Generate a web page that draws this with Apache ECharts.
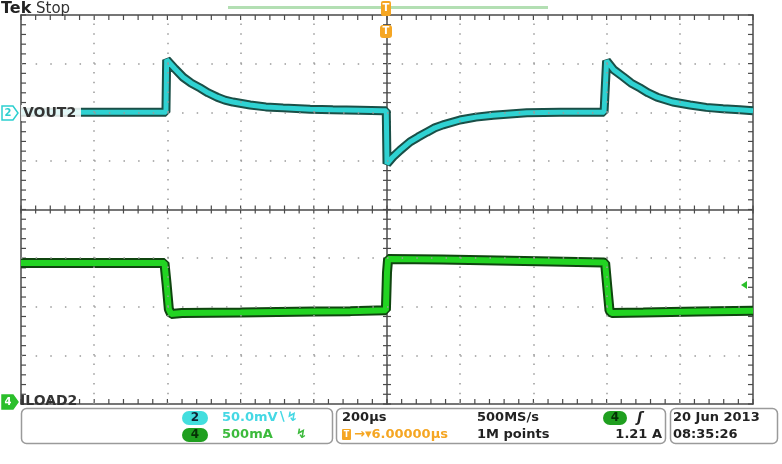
<!DOCTYPE html>
<html><head><meta charset="utf-8">
<script src="https://cdn.jsdelivr.net/npm/echarts@6/dist/echarts.min.js"></script>
<style>html,body{margin:0;padding:0;background:#fff}#c{width:782px;height:464px}</style>
</head><body><div id="c"></div>
<script>
// Time in microseconds (200 us/div), values in vertical divisions
const vTime = [-1000, -604, -602, -579, -557, -535, -511, -489, -464, -443, -421, -374, -331, -284, -210, -148, -74, -11, -2, 0, 16, 36, 63, 85, 109, 131, 153, 199, 243, 290, 382, 473, 593, 598, 600, 620, 645, 667, 691, 713, 738, 781, 828, 872, 918, 964, 1000];
const vVal  = [2.0, 2.0, 3.08, 2.89, 2.72, 2.60, 2.50, 2.40, 2.31, 2.25, 2.21, 2.15, 2.11, 2.09, 2.06, 2.05, 2.04, 2.03, 2.03, 0.94, 1.08, 1.22, 1.39, 1.49, 1.59, 1.68, 1.74, 1.84, 1.90, 1.94, 1.99, 2.0, 2.0, 2.0, 3.06, 2.87, 2.73, 2.60, 2.50, 2.40, 2.31, 2.21, 2.15, 2.10, 2.07, 2.05, 2.03];
const iTime = [-1000, -608, -602, -596, -590, -560, -400, -200, -100, -3, 0, 3, 150, 300, 450, 590, 596, 602, 608, 614, 700, 850, 1000];
const iVal  = [-1.10, -1.10, -1.55, -2.05, -2.15, -2.13, -2.12, -2.10, -2.09, -2.07, -1.30, -1.02, -1.03, -1.05, -1.07, -1.09, -1.10, -1.60, -2.08, -2.13, -2.12, -2.10, -2.08];
const xTicks = {min: -1000, max: 1000, interval: 200};
const yTicks = {min: -4, max: 4, interval: 1};
const gridX = [-800, -600, -400, -200, 200, 400, 600, 800];
const gridY = [-3, -2, -1, 1, 2, 3];

const vData = vTime.map((t, i) => [t, vVal[i]]);
const iData = iTime.map((t, i) => [t, iVal[i]]);

// graticule minor tick positions (5 per division)
const xMinor = [], yMinor = [];
for (let k = 0; k <= 50; k++) xMinor.push(xTicks.min + k * xTicks.interval / 5);
for (let k = 0; k <= 40; k++) yMinor.push(yTicks.min + k * yTicks.interval / 5);

const frameColor = '#4a4a4a';
function base(pos, onZero, rng) {
  return {type: 'value', min: rng.min, max: rng.max, interval: rng.interval, position: pos,
    axisLine: {show: true, onZero: onZero, onZeroAxisIndex: 0, lineStyle: {color: frameColor, width: 1.5}},
    axisTick: {show: false}, minorTick: {show: false},
    axisLabel: {show: false},
    splitLine: {show: false}};
}
function tickSeries(data, size, offset) {
  return {type: 'scatter', data: data, symbol: 'rect', symbolSize: size, symbolOffset: offset,
    clip: false, silent: true, z: 2, itemStyle: {color: frameColor, opacity: 1}, emphasis: {disabled: true}};
}

const F = 'bold 13px "DejaVu Sans"';
function txt(x, y, s, fill, font, align) {
  return {type: 'text', x: x, y: y, z: 100, style: {text: s, fill: fill, font: font || F, align: align || 'left', verticalAlign: 'middle'}};
}
function rect(x, y, w, h, r, fill, stroke, lw) {
  return {type: 'rect', z: 90, shape: {x: x, y: y, width: w, height: h, r: r}, style: {fill: fill, stroke: stroke || null, lineWidth: lw || 0}};
}
function poly(pts, fill, stroke) {
  return {type: 'polygon', z: 95, shape: {points: pts}, style: {fill: fill, stroke: stroke || null, lineWidth: 1.5}};
}
const mlBase = {silent: true, symbol: 'none', animation: false, label: {show: false}, emphasis: {disabled: true}};

const chart = echarts.init(document.getElementById('c'), null, {renderer: 'canvas'});
chart.setOption({
  animation: false,
  grid: {left: 21, top: 15, right: 29, bottom: 60},
  xAxis: [base('bottom', true, xTicks), base('top', false, xTicks), base('bottom', false, xTicks)],
  yAxis: [base('left', true, yTicks), base('left', false, yTicks), base('right', false, yTicks)],
  series: [
    {type: 'line', data: [], showSymbol: false, z: 1, silent: true,
      markLine: Object.assign({lineStyle: {color: '#9a9a9a', width: 1.5, type: [1.5, 8.22]}, data: gridX.map(v => ({xAxis: v}))}, mlBase)},
    {type: 'line', data: [], showSymbol: false, z: 1, silent: true,
      markLine: Object.assign({lineStyle: {color: '#9a9a9a', width: 1.5, type: [1.5, 13.14]}, data: gridY.map(v => ({yAxis: v}))}, mlBase)},
    tickSeries(xMinor.map(x => [x, yTicks.max]), [1.2, 5], [0, 2.5]),
    tickSeries(xMinor.map(x => [x, yTicks.min]), [1.2, 5], [0, -2.5]),
    tickSeries(xMinor.map(x => [x, 0]), [1.2, 8], [0, 0]),
    tickSeries(yMinor.map(y => [xTicks.min, y]), [5, 1.2], [2.5, 0]),
    tickSeries(yMinor.map(y => [xTicks.max, y]), [5, 1.2], [-2.5, 0]),
    tickSeries(yMinor.map(y => [0, y]), [8, 1.2], [0, 0]),
    {type: 'line', data: vData, showSymbol: false, z: 3, lineStyle: {color: '#1a4f47', width: 9}},
    {type: 'line', data: vData, showSymbol: false, z: 4, lineStyle: {color: '#2fd2d2', width: 5}},
    {type: 'line', data: iData, showSymbol: false, z: 3, lineStyle: {color: '#0f450f', width: 10}},
    {type: 'line', data: iData, showSymbol: false, z: 4, lineStyle: {color: '#22d422', width: 6}}
  ],
  graphic: [
    txt(1, 9, 'Tek', '#222', 'bold 16px "DejaVu Sans"'),
    txt(36, 9, 'Stop', '#333', '15px "DejaVu Sans"'),
    rect(228, 6, 320, 3, 0, '#b3dfb3'),
    rect(381, 1, 10, 15, 2, '#f5a623'),
    txt(386, 8, 'T', '#fff', 'bold 10px "DejaVu Sans"', 'center'),
    rect(380, 25, 12, 13, 3, '#f5a623'),
    txt(386, 31.5, 'T', '#fff', 'bold 10px "DejaVu Sans"', 'center'),
    rect(21, 105, 60, 16, 0, 'rgba(255,255,255,0.85)'),
    poly([[2, 106], [13, 106], [18, 113], [13, 120], [2, 120]], '#fff', '#2ccfcf'),
    txt(8, 113, '2', '#2ccfcf', 'bold 10px "DejaVu Sans"', 'center'),
    txt(23, 113, 'VOUT2', '#333', 'bold 14px "DejaVu Sans"'),
    poly([[2, 395], [13, 395], [18, 402], [13, 409], [2, 409]], '#2bbf2b', '#2bbf2b'),
    txt(8, 402, '4', '#fff', 'bold 10px "DejaVu Sans"', 'center'),
    txt(20, 401, 'ILOAD2', '#333', 'bold 14px "DejaVu Sans"'),
    poly([[741, 285], [747, 281], [747, 289]], '#2bbf2b'),
    rect(21.5, 408.5, 311, 35, 5, '#fff', '#9a9a9a', 1.5),
    rect(336.5, 408.5, 329, 35, 5, '#fff', '#9a9a9a', 1.5),
    rect(670.5, 408.5, 107, 35, 5, '#fff', '#9a9a9a', 1.5),
    rect(182, 411, 26, 14, 7, '#43dede'),
    txt(195, 418, '2', '#123', 'bold 12px "DejaVu Sans"', 'center'),
    rect(182, 428, 26, 14, 7, '#1f9f1f'),
    txt(195, 435, '4', '#063006', 'bold 12px "DejaVu Sans"', 'center'),
    txt(222, 418, '50.0mV\u2216\u21AF', '#45d8e4', F),
    txt(222, 435, '500mA', '#3cba3c', F),
    txt(296, 435, '\u21AF', '#3cba3c', F),
    txt(342, 418, '200\u00B5s', '#222', F),
    rect(342, 429, 9, 11, 1, '#f5a623'),
    txt(346.5, 434.5, 'T', '#fff', 'bold 8px "DejaVu Sans"', 'center'),
    txt(354, 435, '\u2192\u25BE6.00000\u00B5s', '#f5a623', F),
    txt(477, 418, '500MS/s', '#222', F),
    txt(477, 435, '1M points', '#222', F),
    rect(603, 411, 24, 14, 7, '#1f9f1f'),
    txt(615, 418, '4', '#063006', 'bold 12px "DejaVu Sans"', 'center'),
    txt(637, 418, '\u0283', '#222', 'bold italic 14px "DejaVu Sans"'),
    txt(662, 435, '1.21 A', '#222', F, 'right'),
    txt(673, 418, '20 Jun 2013', '#222', F),
    txt(673, 435, '08:35:26', '#222', F)
  ]
});
</script></body></html>
